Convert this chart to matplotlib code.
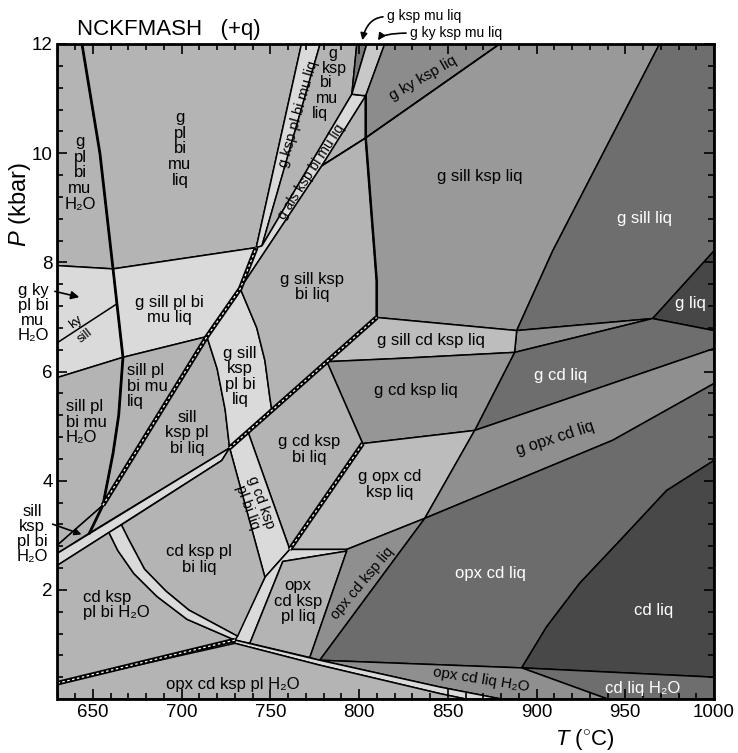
import numpy as np
import matplotlib
matplotlib.use("Agg")
import matplotlib.pyplot as plt
from matplotlib.patches import Polygon

plt.rcParams['font.family'] = ['Liberation Sans', 'DejaVu Sans']
plt.rcParams['mathtext.fontset'] = 'custom'
plt.rcParams['mathtext.it'] = 'Liberation Sans:italic'
plt.rcParams['mathtext.rm'] = 'Liberation Sans'

# 主な交点 (T degC, P kbar)
A = (655.6, 3.55)
S1 = (661.3, 7.88)
S2 = (663.5, 7.24)
S3 = (666.9, 6.26)
G1 = (714.2, 6.64)
B2 = (733.0, 7.52)
N1 = (742.0, 8.27)
N1r = (745.2, 8.30)
Q1 = (795.9, 11.08)
Q2 = (803.7, 11.05)
K = (803.7, 10.28)
R2k = (779.0, 9.77)
C0 = (727.0, 4.60)
C1 = (809.9, 6.99)
Y1 = (781.8, 6.18)
Y2 = (750.8, 5.29)
Y3 = (737.3, 4.90)
M1 = (888.8, 6.75)
M2 = (887.6, 6.35)
GL = (965.4, 6.97)
N2 = (865.1, 4.92)
N3 = (837.0, 3.31)
O1 = (802.0, 4.68)
O2 = (760.9, 2.74)
O3 = (793.0, 2.74)
B = (730.0, 1.08)
SOL0 = (777.8, 0.71)
CL = (891.6, 0.57)

arc_in = [(659.0, 3.05), (664.0, 2.72), (673.0, 2.30), (686.0, 1.88), (703.0, 1.46), B]
arc_out = [(666.0, 3.19), (670.0, 2.93), (679.0, 2.38), (691.0, 1.98), (704.0, 1.63), (731.5, 1.15)]
cd_liq_curve = [(1000, 4.37), (973.3, 3.82), (947.2, 2.91), (924.3, 2.12), (905.6, 1.32), CL]

# 各領域の頂点
g_pl_bi_mu_H2O = [(630, 12), (643.8, 12), (653.9, 10.0), S1, (630, 7.94)]
g_pl_bi_mu_liq = [(643.8, 12), (767.5, 12), N1, S1, (653.9, 10.0)]
g_ky_pl_bi_mu_H2O = [(630, 7.94), S1, S2, S3, (630, 5.89)]
g_sill_pl_bi_mu_liq = [S1, N1, B2, G1, S3, S2]
sill_pl_bi_mu_H2O = [(630, 5.89), S3, (664.5, 5.2), (661.3, 4.5), A, (630, 2.82)]
sill_pl_bi_mu_liq = [S3, G1, A, (661.3, 4.5), (664.5, 5.2)]
sill_ksp_pl_bi_H2O = [A, (648, 3.04), (630, 2.67), (630, 2.82)]
sill_ksp_pl_bi_liq = [A, G1, (720, 6.05), (724.5, 5.3), C0, (648, 3.04)]
g_sill_ksp_pl_bi_liq = [G1, B2, (742.3, 6.80), (746.9, 6.20), (749.7, 5.52), Y2, C0,
                        (724.5, 5.3), (720, 6.05)]
band1 = [N1, (767.5, 12), (778, 12), N1r]
g_ksp_bi_mu_liq = [N1r, (778, 12), (798.7, 12), Q1]
band2 = [B2, N1, N1r, Q1, Q2, R2k]
g_ksp_mu_liq = [(798.7, 12), (804.3, 12), Q1]
g_ky_ksp_mu_liq = [(804.3, 12), (814.4, 12), Q2, Q1]
g_ky_ksp_liq = [(814.4, 12), (879.2, 12), K, Q2]
g_ky_ksp_bi_liq = [R2k, Q2, K]
g_sill_ksp_bi_liq = [B2, R2k, K, (809.9, 7.66), C1, Y2, (749.7, 5.52), (746.9, 6.20), (742.3, 6.80)]
g_sill_ksp_liq = [K, (879.2, 12), (969.3, 12), (909.1, 8.21), M1, C1, (809.9, 7.66)]
g_sill_liq = [(969.3, 12), (1000, 12), (1000, 8.21), GL, M1, (909.1, 8.21)]
g_liq = [GL, (1000, 8.21), (1000, 6.75)]
g_sill_cd_liq = [M1, GL, M2]
g_cd_liq = [M2, GL, (1000, 6.75), (1000, 6.42), N2]
g_sill_cd_ksp_liq = [Y1, C1, M1, M2, (822.9, 6.24)]
g_cd_ksp_liq = [Y1, (822.9, 6.24), M2, N2, O1]
g_cd_ksp_bi_liq = [Y3, Y1, O1, O2]
g_cd_ksp_pl_bi_liq = [C0, Y3, O2, (746.9, 2.23)]
g_opx_cd_ksp_liq = [O1, N2, N3, O3, O2]
g_opx_cd_liq = [N2, (1000, 6.42), (1000, 5.78), (942.9, 4.74), N3]
opx_band = [(746.9, 2.23), O2, O3, (793, 2.71), (757, 2.52), (738.4, 1.02), B]
opx_cd_ksp_pl_liq = [(757, 2.52), (793, 2.71), (772.2, 0.76), (738.4, 1.02)]
opx_cd_ksp_liq = [(793, 2.71), O3, N3, SOL0, (772.2, 0.76)]
opx_cd_liq = [N3, (942.9, 4.74), (1000, 5.78)] + cd_liq_curve + [SOL0]
cd_liq = cd_liq_curve + [(1000, 0.40)]
cd_liq_H2O = [CL, (1000, 0.40), (1000, 0), (940, 0)]
opx_cd_liq_H2O = [SOL0, CL, (940, 0), (880, 0), (845.4, 0.22)]
low_band = [B, SOL0, (845.4, 0.22), (880, 0), (860, 0), (845.4, 0.10), (777.8, 0.62), (730, 1.02)]
opx_cd_ksp_pl_H2O = [(630, 0), (630, 0.29), (730, 1.02), (777.8, 0.62), (845.4, 0.10), (860, 0)]
cd_band = [(630, 2.67), C0, (722.6, 4.37), (630, 2.45)]
cd_ksp_pl_bi_H2O = [(630, 2.45)] + arc_in + [(630, 0.29)]
cd_ksp_pl_bi_liq = [(666, 3.19), (722.6, 4.37), C0, (746.9, 2.23), (731.5, 1.15)] + arc_out[::-1]
arc_band = arc_out + arc_in[::-1]

light = '#dadada'
med = '#b4b4b4'
fields = [
    (g_pl_bi_mu_H2O, med), (g_pl_bi_mu_liq, med), (g_ky_pl_bi_mu_H2O, light),
    (g_sill_pl_bi_mu_liq, light), (sill_pl_bi_mu_H2O, med), (sill_pl_bi_mu_liq, med),
    (sill_ksp_pl_bi_H2O, med), (sill_ksp_pl_bi_liq, med), (g_sill_ksp_pl_bi_liq, light),
    (band1, light), (g_ksp_bi_mu_liq, med), (band2, light), (g_ksp_mu_liq, '#7a7a7a'),
    (g_ky_ksp_mu_liq, '#c8c8c8'), (g_ky_ksp_liq, '#8c8c8c'), (g_ky_ksp_bi_liq, med),
    (g_sill_ksp_bi_liq, med), (g_sill_ksp_liq, '#999999'), (g_sill_liq, '#6e6e6e'),
    (g_liq, '#474747'), (g_sill_cd_liq, '#8f8f8f'), (g_cd_liq, '#6e6e6e'),
    (g_sill_cd_ksp_liq, '#bdbdbd'), (g_cd_ksp_liq, '#969696'), (g_cd_ksp_bi_liq, med),
    (g_cd_ksp_pl_bi_liq, light), (g_opx_cd_ksp_liq, '#bcbcbc'), (g_opx_cd_liq, '#8f8f8f'),
    (opx_band, light), (opx_cd_ksp_pl_liq, med), (opx_cd_ksp_liq, '#8f8f8f'),
    (opx_cd_liq, '#6c6c6c'), (cd_liq, '#484848'), (cd_liq_H2O, '#6e6e6e'),
    (opx_cd_liq_H2O, '#8f8f8f'), (low_band, light), (opx_cd_ksp_pl_H2O, med),
    (cd_band, light), (cd_ksp_pl_bi_H2O, med), (cd_ksp_pl_bi_liq, med), (arc_band, light),
]

# 線
wet_solidus = [(643.8, 12), (653.9, 10.0), S1, S2, S3, (664.5, 5.2), (661.3, 4.5), A, (648, 3.04)]
ky_sill_sub = [(630, 6.53), S2]
ky_sill_liq = [(879.2, 12), K, R2k]
bi_out = [Q2, K, (809.9, 7.66), C1]
mu_out = [A, G1, B2, N1]
cd_line = [C0, C1]
opx_line = [O2, O1]
base_line = [(630, 0.29), B]

# ラベル
lab_text = ["g\npl\nbi\nmu\nH\u2082O", "g\npl\nbi\nmu\nliq", "g sill pl bi\nmu liq",
            "sill pl\nbi mu\nliq", "sill pl\nbi mu\nH\u2082O", "sill\nksp pl\nbi liq",
            "g sill\nksp\npl bi\nliq", "g sill ksp\nbi liq", "g sill ksp liq",
            "g sill cd ksp liq", "g cd ksp liq", "g cd ksp\nbi liq", "g opx cd\nksp liq",
            "cd ksp pl\nbi liq", "cd ksp\npl bi H\u2082O", "opx\ncd ksp\npl liq",
            "opx cd ksp pl H\u2082O"]
lab_T = [642.7, 699.0, 693.3, 669.0, 634.8, 703.0, 732.8, 773.4, 867.9,
         840.3, 832.0, 772.0, 817.2, 709.7, 644.4, 765.5, 729.0]
lab_P = [9.64, 10.08, 7.13, 5.73, 5.07, 4.88, 5.91, 7.55, 9.58,
         6.57, 5.65, 4.57, 3.93, 2.56, 1.72, 1.79, 0.26]
lab_ha = ['center', 'center', 'center', 'left', 'left', 'center', 'center', 'center', 'center',
          'center', 'center', 'center', 'center', 'center', 'left', 'center', 'center']

white_text = ["g sill liq", "g liq", "g cd liq", "opx cd liq", "cd liq", "cd liq H\u2082O"]
white_T = [960.8, 986.8, 913.5, 874.0, 966.0, 960.0]
white_P = [8.80, 7.24, 5.93, 2.30, 1.63, 0.20]

rot_text = ["g ksp pl bi mu liq", "g als ksp bi mu liq", "g ky ksp liq", "g opx cd liq",
            "g cd ksp\npl bi liq", "opx cd ksp liq", "opx cd liq H\u2082O", "ky", "sill"]
rot_T = [765.6, 772.8, 836.0, 910.7, 740.7, 802.0, 869.0, 640.0, 645.5]
rot_P = [10.72, 9.66, 11.38, 4.77, 3.55, 2.12, 0.35, 6.90, 6.66]
rot_ang = [74, 57, 30, 18, -70, 50, -9, 38, 38]
rot_size = [10.5, 10, 11, 11.5, 10.5, 10.5, 11, 9.5, 9.5]

col_text = ["g", "ksp", "bi", "mu", "liq"]
col_T = [785.1, 786.2, 781.4, 781.7, 778.1]
col_P = [11.83, 11.56, 11.29, 11.01, 10.72]

fig = plt.figure(figsize=(7.38, 7.53), dpi=100)
ax = fig.add_axes([57.5 / 738, 1 - 699 / 753, 656.5 / 738, 655 / 753])
ax.set_facecolor(med)
ax.set_xlim(630, 1000)
ax.set_ylim(0, 12)

for pts, c in fields:
    ax.add_patch(Polygon(pts, closed=True, fc=c, ec='k', lw=1.1, joinstyle='round', zorder=1))


def xy(pts):
    return [p[0] for p in pts], [p[1] for p in pts]


ax.plot(*xy(wet_solidus), color='k', lw=2.0, zorder=3)
ax.plot(*xy(bi_out), color='k', lw=1.8, zorder=3)
ax.plot(*xy(ky_sill_sub), color='k', lw=1.1, zorder=3)
ax.plot(*xy(ky_sill_liq), color='k', lw=1.1, zorder=3)
for line in [mu_out, cd_line, opx_line, base_line]:
    ax.plot(*xy(line), color='k', lw=3.4, zorder=3, solid_capstyle='butt')
    ax.plot(*xy(line), color='white', lw=0.9, ls=(0, (2, 2)), zorder=4)

for t, x, y, h in zip(lab_text, lab_T, lab_P, lab_ha):
    ax.text(x, y, t, ha=h, va='center', multialignment='center' if h == 'center' else 'left',
            fontsize=12, linespacing=1.05, zorder=5)
for t, x, y in zip(white_text, white_T, white_P):
    ax.text(x, y, t, ha='center', va='center', color='white', fontsize=12, zorder=5)
for t, x, y, r, s in zip(rot_text, rot_T, rot_P, rot_ang, rot_size):
    ax.text(x, y, t, ha='center', va='center', rotation=r, rotation_mode='anchor',
            fontsize=s, linespacing=1.0, zorder=5)
for t, x, y in zip(col_text, col_T, col_P):
    ax.text(x, y, t, ha='center', va='center', fontsize=11.5, zorder=5)

# 外側のラベルと矢印
ax.text(616.2, 7.08, "g ky\npl bi\nmu\nH\u2082O", ha='center', va='center', fontsize=12,
        linespacing=1.0, clip_on=False)
ax.text(615.6, 3.02, "sill\nksp\npl bi\nH\u2082O", ha='center', va='center', fontsize=12,
        linespacing=1.0, clip_on=False)
ax.annotate('', xy=(643.8, 7.35), xytext=(627.0, 7.48), annotation_clip=False,
            arrowprops=dict(arrowstyle='-|>', color='k', lw=1.2, mutation_scale=12))
ax.annotate('', xy=(645.0, 3.0), xytext=(625.8, 3.22), annotation_clip=False,
            arrowprops=dict(arrowstyle='-|>', color='k', lw=1.2, mutation_scale=10))
ax.text(815.5, 12.51, "g ksp mu liq", ha='left', va='center', fontsize=10, clip_on=False)
ax.text(828.5, 12.20, "g ky ksp mu liq", ha='left', va='center', fontsize=10, clip_on=False)
ax.annotate('', xy=(801.5, 12.02), xytext=(815.0, 12.50), annotation_clip=False,
            arrowprops=dict(arrowstyle='-|>', color='k', lw=1.2, mutation_scale=10,
                            connectionstyle='angle3,angleA=0,angleB=80'))
ax.annotate('', xy=(810.0, 12.02), xytext=(828.0, 12.20), annotation_clip=False,
            arrowprops=dict(arrowstyle='-|>', color='k', lw=1.2, mutation_scale=10,
                            connectionstyle='angle3,angleA=0,angleB=80'))

ax.text(0.03, 1.013, "NCKFMASH   (+q)", transform=ax.transAxes, ha='left', va='baseline',
        fontsize=16)
fig.text(20 / 738, 1 - 205 / 753, r"$P$ (kbar)", rotation=90, ha='center', va='center',
         fontsize=17)
fig.text(585 / 738, 1 - 739 / 753, r"$T$ ($^{\circ}$C)", ha='center', va='center', fontsize=16)

ax.set_xticks(np.arange(650, 1001, 50))
ax.set_xticks(np.arange(630, 1001, 10), minor=True)
ax.set_yticks(np.arange(2, 13, 2))
ax.set_yticks(np.arange(0, 12.01, 0.4), minor=True)
ax.tick_params(which='both', direction='in', top=True, right=True, width=1.2, labelsize=13.5)
ax.tick_params(which='major', length=7)
ax.tick_params(which='minor', length=4)
for s in ax.spines.values():
    s.set_linewidth(2)
    s.set_zorder(6)

fig.savefig('out.png', dpi=100)
plt.close()
